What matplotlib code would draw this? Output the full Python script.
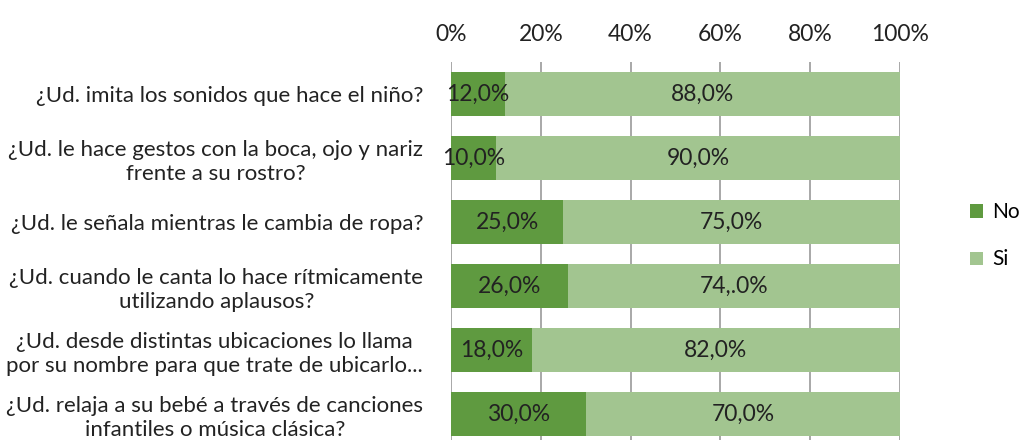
import matplotlib.pyplot as plt
import numpy as np

preguntas = [
    "¿Ud. imita los sonidos que hace el niño?",
    "¿Ud. le hace gestos con la boca, ojo y nariz\nfrente a su rostro?",
    "¿Ud. le señala mientras le cambia de ropa?",
    "¿Ud. cuando le canta lo hace rítmicamente\nutilizando aplausos?",
    "¿Ud. desde distintas ubicaciones lo llama\npor su nombre para que trate de ubicarlo...",
    "¿Ud. relaja a su bebé a través de canciones\ninfantiles o música clásica?",
]
no_vals = [12.0, 10.0, 25.0, 26.0, 18.0, 30.0]
si_vals = [88.0, 90.0, 75.0, 74.0, 82.0, 70.0]
no_labels = ["12,0%", "10,0%", "25,0%", "26,0%", "18,0%", "30,0%"]
si_labels = ["88,0%", "90,0%", "75,0%", "74,.0%", "82,0%", "70,0%"]
ticks = [0, 20, 40, 60, 80, 100]

plt.rcParams['font.family'] = ['Lato', 'DejaVu Sans']
c_no = '#5F9A40'
c_si = '#A2C590'
txt = '#222222'

fig = plt.figure(figsize=(10.28, 4.4), dpi=100)
ax = fig.add_axes([451/1028, -6/440, 449/1028, 384/440])

y = np.arange(len(preguntas))
ax.barh(y, no_vals, height=0.69, color=c_no, label='No', zorder=2)
ax.barh(y, si_vals, left=no_vals, height=0.69, color=c_si, label='Si', zorder=2)

for i in range(len(y)):
    ax.text(no_vals[i] / 2, y[i], no_labels[i], ha='center', va='center', fontsize=16.5, color=txt, zorder=3)
    ax.text(no_vals[i] + si_vals[i] / 2, y[i], si_labels[i], ha='center', va='center', fontsize=16.5, color=txt, zorder=3)

ax.set_xlim(0, 100)
ax.set_ylim(len(preguntas) - 0.5, -0.5)
ax.set_xticks(ticks)
ax.set_xticklabels([f"{t}%" for t in ticks], fontsize=16.5, color=txt)
ax.xaxis.tick_top()
ax.tick_params(axis='x', length=0, pad=12)
ax.set_yticks(y)
ax.set_yticklabels(preguntas, fontsize=16, color=txt, multialignment='center', linespacing=1.25)
ax.tick_params(axis='y', length=0, pad=20)
ax.grid(axis='x', color='#999999', linewidth=1.2, zorder=0)
for s in ax.spines.values():
    s.set_visible(False)

ax.legend(loc='center left', bbox_to_anchor=(1.115, 0.547), frameon=False, fontsize=15,
          handlelength=0.6, handleheight=0.6, handletextpad=0.45, labelspacing=1.3)

fig.savefig('out.png', dpi=100)
